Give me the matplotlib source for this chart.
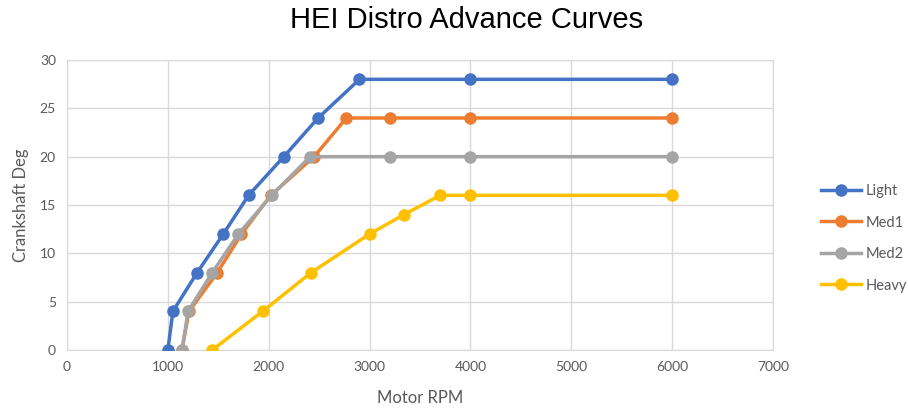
import matplotlib
matplotlib.use("Agg")
import matplotlib.pyplot as plt

# Data
light_rpm = [1000, 1050, 1290, 1550, 1800, 2150, 2490, 2900, 4000, 6000]
light_deg = [0, 4, 8, 12, 16, 20, 24, 28, 28, 28]

med1_rpm = [1140, 1210, 1490, 1730, 2020, 2450, 2770, 3200, 4000, 6000]
med1_deg = [0, 4, 8, 12, 16, 20, 24, 24, 24, 24]

med2_rpm = [1140, 1200, 1440, 1700, 2030, 2410, 3200, 4000, 6000]
med2_deg = [0, 4, 8, 12, 16, 20, 20, 20, 20]

heavy_rpm = [1440, 1940, 2420, 3000, 3340, 3700, 4000, 6000]
heavy_deg = [0, 4, 8, 12, 14, 16, 16, 16]

series = [
    ("Light", light_rpm, light_deg, "#4472C4"),
    ("Med1", med1_rpm, med1_deg, "#ED7D31"),
    ("Med2", med2_rpm, med2_deg, "#A5A5A5"),
    ("Heavy", heavy_rpm, heavy_deg, "#FFC000"),
]

plt.rcParams['font.family'] = ['Lato', 'DejaVu Sans']

fig = plt.figure(figsize=(9.08, 4.13), dpi=100)
ax = fig.add_axes([67 / 908, 1 - 350 / 413, (773 - 67) / 908, (350 - 60) / 413])

for name, x, y, c in series:
    ax.plot(x, y, color=c, lw=2.5, marker='o', ms=8, label=name, zorder=3)

ax.set_xlim(0, 7000)
ax.set_ylim(0, 30)
ax.set_xticks(range(0, 7001, 1000))
ax.set_yticks(range(0, 31, 5))
ax.grid(True, color='#D9D9D9', lw=1)
for s in ax.spines.values():
    s.set_color('#D9D9D9')
ax.tick_params(length=0, colors='#595959', labelsize=10, pad=8)
ax.set_xlabel("Motor RPM", color='#595959', fontsize=12, labelpad=12)
ax.set_ylabel("Crankshaft Deg", color='#595959', fontsize=12, labelpad=8)

fig.text(0.514, 0.952, "HEI Distro Advance Curves", ha='center', va='center',
         fontsize=21, color='black', family=['Liberation Sans', 'DejaVu Sans'])

leg = ax.legend(loc='center left', bbox_to_anchor=(1.05, 0.385), frameon=False,
                fontsize=10.5, labelcolor='#595959', handlelength=2.7,
                labelspacing=1.2, handletextpad=0.3)

fig.savefig("out.png", dpi=100)
